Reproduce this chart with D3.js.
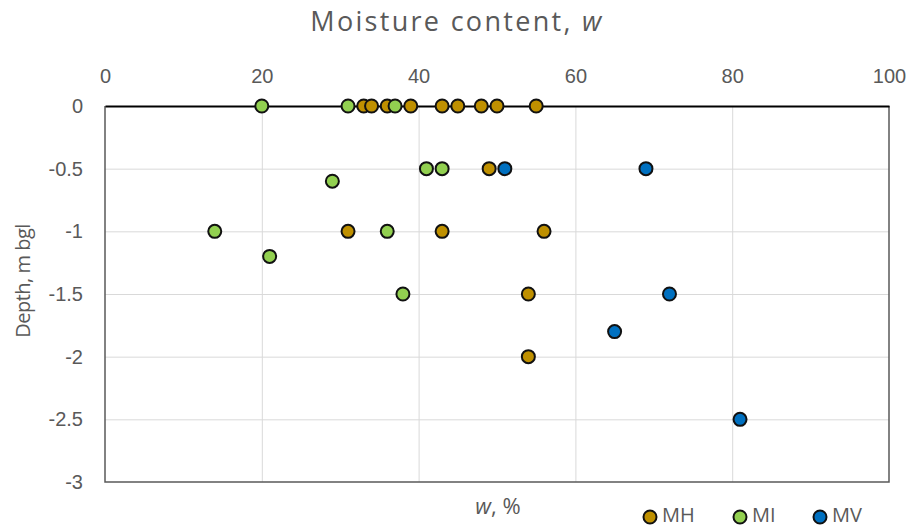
<!DOCTYPE html>
<html>
<head>
<meta charset="utf-8">
<script src="https://cdn.jsdelivr.net/npm/d3@7/dist/d3.min.js"></script>
<style>
  html, body { margin: 0; padding: 0; background: #ffffff; }
  svg { display: block; font-family: "Open Sans", "Noto Sans", sans-serif; }
</style>
</head>
<body>
<svg id="chart" width="911" height="528"></svg>
<script>
// Moisture content (%) against depth (m below ground level), by soil class
const seriesNames = ["MH", "MI", "MV"];
const seriesColors = ["#bf9000", "#92d050", "#0070c0"];

const mhMoisture = [33, 34, 36, 39, 43, 45, 48, 50, 55, 49, 31, 43, 56, 54, 54];
const mhDepth    = [0, 0, 0, 0, 0, 0, 0, 0, 0, -0.5, -1, -1, -1, -1.5, -2];

const miMoisture = [20, 31, 37, 41, 43, 29, 14, 36, 21, 38];
const miDepth    = [0, 0, 0, -0.5, -0.5, -0.6, -1, -1, -1.2, -1.5];

const mvMoisture = [51, 69, 72, 65, 81];
const mvDepth    = [-0.5, -0.5, -1.5, -1.8, -2.5];

const xTickValues = [0, 20, 40, 60, 80, 100];
const yTickValues = [0, -0.5, -1, -1.5, -2, -2.5, -3];
const yTickLabels = ["0", "-0.5", "-1", "-1.5", "-2", "-2.5", "-3"];

const series = [
  { name: seriesNames[0], color: seriesColors[0], w: mhMoisture, d: mhDepth },
  { name: seriesNames[1], color: seriesColors[1], w: miMoisture, d: miDepth },
  { name: seriesNames[2], color: seriesColors[2], w: mvMoisture, d: mvDepth }
];

const svg = d3.select("#chart");
const plot = { left: 105, right: 889, top: 106, bottom: 482 };
const textColor = "#595959";

const x = d3.scaleLinear().domain([0, 100]).range([plot.left, plot.right]);
const y = d3.scaleLinear().domain([-3, 0]).range([plot.bottom, plot.top]);

// Title
svg.append("text")
  .attr("x", 457).attr("y", 31)
  .attr("text-anchor", "middle")
  .attr("fill", textColor)
  .style("font-size", "27px")
  .style("letter-spacing", "2.3px")
  .html('Moisture content, <tspan font-style="italic">w</tspan>');

// Gridlines
const grid = svg.append("g").attr("stroke", "#d9d9d9").attr("stroke-width", 1);
grid.selectAll("line.v")
  .data(xTickValues.filter(v => v > 0 && v < 100))
  .join("line")
  .attr("x1", d => x(d) + 0.5).attr("x2", d => x(d) + 0.5)
  .attr("y1", plot.top).attr("y2", plot.bottom);
grid.selectAll("line.h")
  .data(yTickValues.filter(v => v < 0 && v > -3))
  .join("line")
  .attr("x1", plot.left).attr("x2", plot.right)
  .attr("y1", d => y(d) + 0.5).attr("y2", d => y(d) + 0.5);

// Plot frame (left, right, bottom)
svg.append("path")
  .attr("d", `M${plot.left},${plot.top}V${plot.bottom}H${plot.right}V${plot.top}`)
  .attr("fill", "none")
  .attr("stroke", "#595959")
  .attr("stroke-width", 1.5);

// Top x axis, crossing at depth 0
const xAxis = svg.append("g")
  .attr("transform", `translate(0,${y(0)})`)
  .call(d3.axisTop(x).tickValues(xTickValues).tickSize(0).tickPadding(23).tickFormat(d3.format("d")));
xAxis.select(".domain").attr("stroke", "#000").attr("stroke-width", 1.8);
xAxis.selectAll("text").attr("fill", textColor).style("font-size", "20px").attr("font-family", null);

// Left y axis
const yAxis = svg.append("g")
  .attr("transform", `translate(${plot.left},0)`)
  .call(d3.axisLeft(y).tickValues(yTickValues).tickSize(0).tickPadding(22)
    .tickFormat((d, i) => yTickLabels[i]));
yAxis.select(".domain").remove();
yAxis.selectAll("text").attr("fill", textColor).style("font-size", "20px").attr("font-family", null);

// Axis titles
svg.append("text")
  .attr("transform", "translate(30,281) rotate(-90)")
  .attr("text-anchor", "middle")
  .attr("fill", textColor)
  .style("font-size", "20px")
  .style("letter-spacing", "-0.5px")
  .text("Depth, m bgl");

svg.append("text")
  .attr("x", 498).attr("y", 514)
  .attr("text-anchor", "middle")
  .attr("fill", textColor)
  .style("font-size", "22px")
  .html('<tspan font-style="italic">w</tspan>, %');

// Points
series.forEach(s => {
  svg.append("g").selectAll("circle")
    .data(s.w.map((w, i) => ({ w, d: s.d[i] })))
    .join("circle")
    .attr("cx", p => x(p.w))
    .attr("cy", p => y(p.d))
    .attr("r", 6.5)
    .attr("fill", s.color)
    .attr("stroke", "#111")
    .attr("stroke-width", 2);
});

// Legend
const legendX = [650, 740, 820];
const legend = svg.append("g");
series.forEach((s, i) => {
  legend.append("circle")
    .attr("cx", legendX[i]).attr("cy", 517)
    .attr("r", 6.5)
    .attr("fill", s.color)
    .attr("stroke", "#111")
    .attr("stroke-width", 2);
  legend.append("text")
    .attr("x", legendX[i] + 12).attr("y", 522)
    .attr("fill", textColor)
    .style("font-size", "20px")
    .text(s.name);
});
</script>
</body>
</html>
